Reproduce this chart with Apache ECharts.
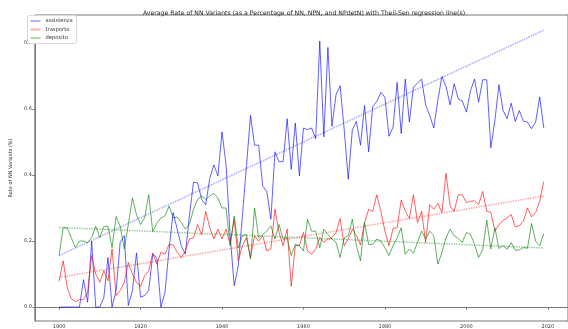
<!DOCTYPE html>
<html>
<head>
<meta charset="utf-8">
<script src="https://cdn.jsdelivr.net/npm/echarts@6/dist/echarts.min.js"></script>
<style>html,body{margin:0;padding:0;background:#fff}#c{width:568px;height:329px}</style>
</head>
<body>
<div id="c"></div>
<script>
var seriesNames = ['assistenza', 'trasporto', 'deposito'];
var firstYear = 1900;
var xTicks = [1900, 1920, 1940, 1960, 1980, 2000, 2020];
var yTicks = [0.0, 0.2, 0.4, 0.6, 0.8];

var assistenza = [0,0,0,0,0,0,0.083,0.015,0.20,0,0,0.03,0.15,0,0.05,0.196,0.216,0.005,0.05,0.164,
0.03,0.035,0.05,0.16,0.15,0,0.045,0.175,0.286,0.236,0.186,0.16,0.276,0.378,0.376,0.326,0.31,0.39,0.43,0.397,
0.53,0.43,0.216,0.065,0.125,0.276,0.426,0.58,0.49,0.49,0.366,0.35,0.266,0.47,0.44,0.44,0.57,0.417,0.557,0.397,
0.542,0.537,0.542,0.51,0.805,0.515,0.786,0.547,0.643,0.67,0.537,0.387,0.537,0.562,0.49,0.61,0.47,0.607,0.622,0.65,
0.635,0.517,0.545,0.68,0.525,0.69,0.56,0.666,0.678,0.69,0.612,0.58,0.542,0.627,0.698,0.668,0.612,0.676,0.63,0.624,
0.59,0.655,0.69,0.62,0.688,0.688,0.482,0.565,0.673,0.595,0.57,0.617,0.562,0.595,0.562,0.56,0.54,0.56,0.636,0.542];

var trasporto = [0.078,0.14,0.06,0.025,0.017,0.023,0.023,0.045,0.156,0.10,0.075,0.11,0.08,0.176,0.035,0.05,0.075,0.135,0.10,0.075,
0.063,0.095,0.11,0.164,0.13,0.166,0.16,0.19,0.188,0.166,0.15,0.17,0.206,0.21,0.25,0.218,0.29,0.24,0.206,0.236,
0.206,0.236,0.19,0.266,0.14,0.186,0.21,0.15,0.216,0.20,0.216,0.17,0.176,0.296,0.226,0.186,0.236,0.063,0.186,0.186,
0.226,0.17,0.16,0.176,0.21,0.196,0.206,0.21,0.226,0.268,0.186,0.206,0.236,0.216,0.188,0.256,0.296,0.29,0.34,0.29,
0.23,0.186,0.238,0.24,0.324,0.29,0.268,0.34,0.256,0.29,0.196,0.31,0.296,0.314,0.286,0.405,0.306,0.29,0.34,0.34,
0.316,0.32,0.322,0.31,0.35,0.29,0.287,0.23,0.25,0.262,0.27,0.28,0.243,0.246,0.26,0.30,0.273,0.286,0.32,0.38];

var deposito = [0.156,0.24,0.24,0.21,0.18,0.20,0.20,0.195,0.21,0.245,0.21,0.244,0.245,0.18,0.274,0.244,0.176,0.25,0.33,0.28,
0.25,0.27,0.34,0.228,0.254,0.27,0.276,0.306,0.27,0.273,0.256,0.236,0.25,0.296,0.326,0.336,0.326,0.336,0.344,0.33,
0.30,0.30,0.186,0.276,0.18,0.216,0.22,0.146,0.30,0.21,0.22,0.23,0.246,0.206,0.25,0.206,0.21,0.156,0.19,0.186,
0.17,0.266,0.23,0.23,0.18,0.236,0.22,0.206,0.196,0.15,0.21,0.216,0.266,0.186,0.14,0.256,0.19,0.19,0.206,0.20,
0.18,0.156,0.186,0.21,0.24,0.16,0.176,0.163,0.196,0.23,0.206,0.23,0.216,0.13,0.166,0.21,0.236,0.216,0.208,0.196,
0.226,0.22,0.19,0.15,0.173,0.263,0.176,0.24,0.177,0.186,0.175,0.195,0.172,0.173,0.18,0.178,0.253,0.20,0.186,0.223];

// Theil-Sen line values read at first and last year
var trendStart = [0.156, 0.090, 0.241];
var trendEnd = [0.838, 0.336, 0.179];

var colors = ['rgba(0,0,255,0.62)', 'rgba(255,0,0,0.62)', 'rgba(0,128,0,0.62)'];
var trendColors = ['rgba(110,110,255,0.6)', 'rgba(255,110,110,0.6)', 'rgba(90,170,90,0.6)'];
var legendColors = ['rgba(0,0,255,0.3)', 'rgba(255,0,0,0.3)', 'rgba(0,128,0,0.3)'];

var allData = [assistenza, trasporto, deposito];
var years = assistenza.map(function (_, i) { return firstYear + i; });
var lastYear = years[years.length - 1];
var span = lastYear - firstYear;
var xMin = firstYear - span * 0.05, xMax = lastYear + span * 0.05;

var series = [];
allData.forEach(function (arr, s) {
  series.push({
    name: seriesNames[s], type: 'line', symbol: 'none',
    data: arr.map(function (v, i) { return [years[i], v]; }),
    lineStyle: { color: colors[s], width: 1 }, itemStyle: { color: colors[s] },
    z: 3
  });
});
allData.forEach(function (arr, s) {
  series.push({
    name: seriesNames[s] + ' trend', type: 'line', symbol: 'none',
    data: [[firstYear, trendStart[s]], [lastYear, trendEnd[s]]],
    lineStyle: { color: trendColors[s], width: 1.5, type: [1.5, 1] },
    z: 2
  });
});

var chart = echarts.init(document.getElementById('c'), null, { renderer: 'canvas' });
chart.setOption({
  animation: false,
  backgroundColor: '#fff',
  textStyle: { fontFamily: 'DejaVu Sans' },
  title: {
    text: 'Average Rate of NN Variants (as a Percentage of NN, NPN, and NPdetN) with Theil-Sen regression line(s)',
    left: 299, top: 5, textAlign: 'center',
    textStyle: { fontSize: 6.2, fontWeight: 'normal', color: '#222', fontFamily: 'DejaVu Sans' }
  },
  legend: {
    orient: 'vertical', left: 27.5, top: 15.5,
    backgroundColor: '#fff', borderColor: '#d8d8d8', borderWidth: 1, borderRadius: 2,
    padding: [3, 4, 3, 3], itemWidth: 10, itemHeight: 2, itemGap: 3.5,
    textStyle: { fontSize: 5.2, color: '#333', fontFamily: 'DejaVu Sans', padding: [0, 0, 0, 0] },
    data: seriesNames.map(function (n, s) {
      return { name: n, icon: 'rect', itemStyle: { color: legendColors[s] }, lineStyle: { color: legendColors[s] } };
    })
  },
  grid: { left: 26.7, top: 15, width: 544.5, height: 306.7, show: true, borderColor: '#777', borderWidth: 1, containLabel: false },
  xAxis: {
    type: 'value', min: xMin, max: xMax,
    axisLine: { show: true, lineStyle: { color: '#777', width: 1 } },
    axisTick: { show: true, length: 2.5, lineStyle: { color: '#777' }, customValues: xTicks },
    axisLabel: { fontSize: 5, color: '#333', margin: 3, customValues: xTicks, fontFamily: 'DejaVu Sans',
      formatter: function (v) { return String(Math.round(v)); } },
    splitLine: { show: false }
  },
  yAxis: {
    type: 'value', min: -0.042, max: 0.884,
    name: 'Rate of NN Variants (%)', nameLocation: 'middle', nameRotate: 90, nameGap: 18,
    nameTextStyle: { fontSize: 5, color: '#333', fontFamily: 'DejaVu Sans' },
    axisLine: { show: true, lineStyle: { color: '#777', width: 1 } },
    axisTick: { show: true, length: 2.5, lineStyle: { color: '#777' }, customValues: yTicks },
    axisLabel: { fontSize: 5, color: '#333', margin: 3, customValues: yTicks, fontFamily: 'DejaVu Sans',
      hideOverlap: false, showMaxLabel: true, showMinLabel: true,
      formatter: function (v) { return v.toFixed(1); } },
    splitLine: { show: false }
  },
  series: series
});
</script>
</body>
</html>
